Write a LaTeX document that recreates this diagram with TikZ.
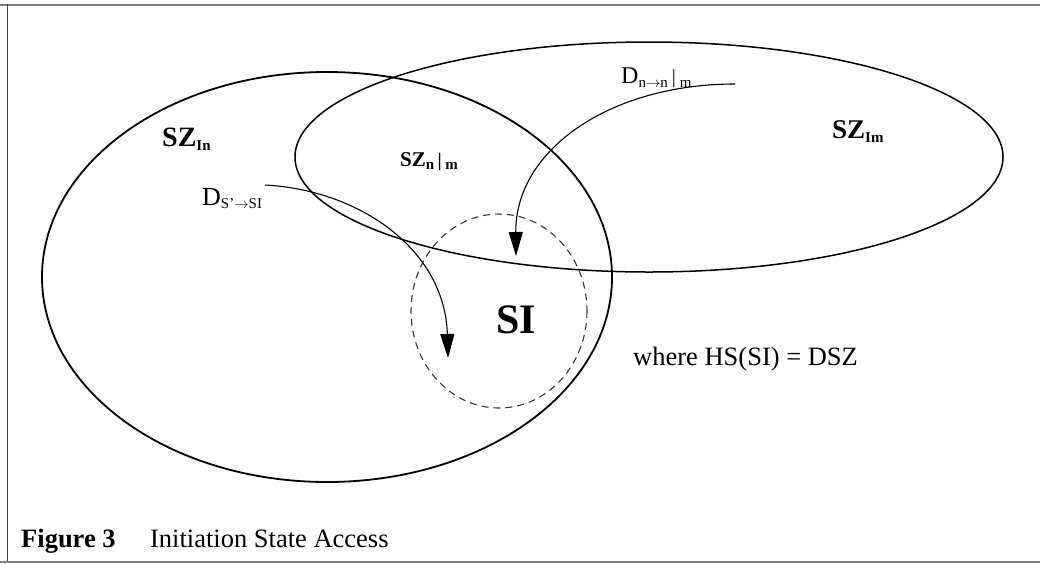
\documentclass[tikz,border=0pt]{standalone}
\usepackage{fontspec}
\setmainfont{Liberation Serif}
\usetikzlibrary{arrows.meta}
\newcommand\lowsub[2]{\raisebox{-#1}{\fontsize{15}{15}\selectfont #2}}
\begin{document}
\begin{tikzpicture}[x=1pt,y=-1pt,
  setring/.style={draw=black,line width=1.6pt},
  flowarrow/.style={draw=black,line width=1.1pt,-{Triangle[length=24pt,width=14pt]}},
  lbl/.style={inner sep=0pt,anchor=base west},
  framerule/.style={draw=gray,line width=2pt}]
\useasboundingbox (0,0) rectangle (1040,563);
% frame
\draw[framerule] (0,4.5) -- (1040,4.5);
\draw[framerule,line width=1.5pt,draw=darkgray] (7.5,4) -- (7.5,562);
\draw[framerule] (0,561.5) -- (1040,561.5);
% sets
\draw[setring,line width=1.8pt] (327,277) ellipse [x radius=285, y radius=205];
\draw[setring,line width=1.5pt] (649,157) ellipse [x radius=354, y radius=115];
\draw[draw=black!80,line width=1.1pt,dash pattern=on 7pt off 5pt] (499,311) ellipse [x radius=88, y radius=97];
% labels
\node[lbl] (szin) at (162,146) {\fontsize{28}{30}\selectfont\bfseries SZ\lowsub{4pt}{\bfseries In}};
\node[lbl] (szim) at (832,138) {\fontsize{27}{30}\selectfont\bfseries SZ\lowsub{4pt}{\bfseries Im}};
\node[lbl] (sznm) at (400,166) {\fontsize{21}{24}\selectfont\bfseries SZ\lowsub{3pt}{\bfseries n}\,{\fontsize{19}{19}\selectfont|}\,\lowsub{3pt}{\bfseries m}};
\node[lbl] (si) at (496,333) {\fontsize{42}{44}\selectfont\bfseries SI};
\node[lbl] (where) at (633,365) {\fontsize{26.5}{29}\selectfont where HS(SI) = DSZ};
\node[lbl] (dsi) at (202,205) {\fontsize{26}{28}\selectfont D\lowsub{3pt}{S'$\rightarrow$SI}};
\node[lbl] (dnm) at (621,83) {\fontsize{24}{26}\selectfont D\lowsub{4pt}{n$\rightarrow$n}\,{\fontsize{20}{20}\selectfont|}\,\lowsub{4pt}{m}};
\node[lbl] (cap) at (21,547) {\fontsize{26.5}{28}\selectfont\textbf{Figure 3}\hspace{1.3em}Initiation State Access};
% arrow endpoints
\coordinate (a1s) at (265,185);
\coordinate (a1e) at (448,358);
\coordinate (a2s) at (735,84);
\coordinate (a2e) at (516,256);
\draw[flowarrow] (a1s) .. controls (360,190) and (445,250) .. (a1e);
\draw[flowarrow] (a2s) .. controls (610,84) and (515,150) .. (a2e);
\end{tikzpicture}
\end{document}
